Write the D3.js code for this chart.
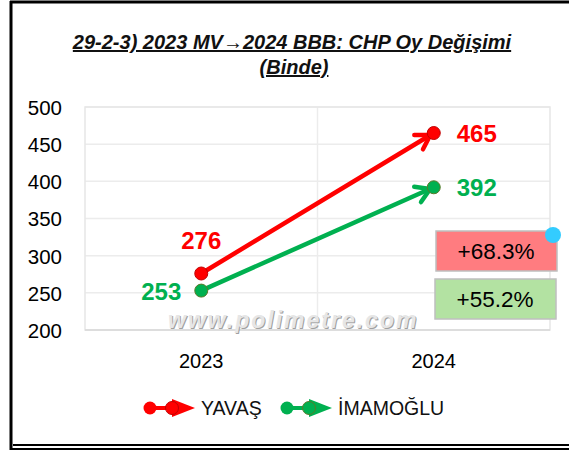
<!DOCTYPE html>
<html>
<head>
<meta charset="utf-8">
<script src="https://cdn.jsdelivr.net/npm/d3@7"></script>
<style>
  body { margin: 0; background: #fff; }
  text { font-family: "Liberation Sans", Arial, sans-serif; }
</style>
</head>
<body>
<svg id="chart" width="569" height="451"></svg>
<script>
const years = ["2023", "2024"];
const yavas = [276, 465];
const imamoglu = [253, 392];
const seriesNames = ["YAVAŞ", "İMAMOĞLU"];
const seriesColors = ["#ff0000", "#00b050"];
const markerStroke = ["#c00000", "#5a7a2a"];
const yTicks = [200, 250, 300, 350, 400, 450, 500];
const changeLabels = ["+68.3%", "+55.2%"];
const changeFills = ["#ff7c80", "#b3e2a2"];

const svg = d3.select("#chart");
const margin = { top: 107, right: 19, bottom: 121, left: 85 };
const width = 569 - margin.left - margin.right;
const height = 451 - margin.top - margin.bottom;

// outer frame
svg.append("line").attr("x1", 11).attr("y1", 1).attr("x2", 11).attr("y2", 450).attr("stroke", "#000").attr("stroke-width", 3);
svg.append("line").attr("x1", 10).attr("y1", 2).attr("x2", 569).attr("y2", 2).attr("stroke", "#000").attr("stroke-width", 3);
svg.append("line").attr("x1", 10).attr("y1", 449).attr("x2", 569).attr("y2", 449).attr("stroke", "#000").attr("stroke-width", 2);
svg.append("line").attr("x1", 13).attr("y1", 445).attr("x2", 569).attr("y2", 445).attr("stroke", "#000").attr("stroke-width", 2);

// title
const title = svg.append("text").attr("text-anchor", "middle")
  .style("font-weight", "bold").style("font-style", "italic").style("font-size", "20px")
  .style("text-decoration", "underline").attr("fill", "#111");
title.append("tspan").attr("x", 292).attr("y", 49).text("29-2-3) 2023 MV→2024 BBB: CHP Oy Değişimi");
title.append("tspan").attr("x", 294).attr("y", 74).text("(Binde)");

const g = svg.append("g").attr("transform", "translate(" + margin.left + "," + margin.top + ")");

const x = d3.scaleBand().domain(years).range([0, width]);
const y = d3.scaleLinear().domain([200, 500]).range([height, 0]);
const cx = (d) => x(d) + x.bandwidth() / 2;

// grid
g.append("g").selectAll("line").data(yTicks).enter().append("line")
  .attr("x1", 0).attr("x2", width).attr("y1", (d) => y(d)).attr("y2", (d) => y(d))
  .attr("stroke", "#ececec").attr("stroke-width", 1.5);
g.append("line").attr("x1", x.bandwidth()).attr("x2", x.bandwidth()).attr("y1", 0).attr("y2", height)
  .attr("stroke", "#ececec").attr("stroke-width", 1.5);
g.append("rect").attr("width", width).attr("height", height).attr("fill", "none")
  .attr("stroke", "#e6e6e6").attr("stroke-width", 1.5);
g.append("line").attr("x1", 0).attr("x2", width).attr("y1", height).attr("y2", height)
  .attr("stroke", "#d9d9d9").attr("stroke-width", 1.5);

// axes
const yAxis = g.append("g").attr("transform", "translate(-23,0)")
  .call(d3.axisLeft(y).tickValues(yTicks).tickSize(0));
yAxis.select(".domain").remove();
yAxis.selectAll("text").style("font-size", "20.5px").attr("fill", "#000").attr("dy", "0.36em").attr("x", 0);

const xAxis = g.append("g").attr("transform", "translate(0," + height + ")")
  .call(d3.axisBottom(x).tickSize(0));
xAxis.select(".domain").remove();
xAxis.selectAll("text").style("font-size", "20px").attr("fill", "#000").attr("dy", "0").attr("y", 38);

// watermark
g.append("text").attr("x", 84).attr("y", 222).style("font-size", "23px").style("font-weight", "bold")
  .style("font-style", "italic").attr("fill", "#a0a0a0").attr("letter-spacing", "2")
  .text("www.polimetre.com");
g.append("text").attr("x", 83).attr("y", 221).style("font-size", "23px").style("font-weight", "bold")
  .style("font-style", "italic").attr("fill", "#e6e6e6").attr("letter-spacing", "2")
  .text("www.polimetre.com");

// lines with open arrows
const allSeries = [yavas, imamoglu];
allSeries.forEach((vals, i) => {
  const pts = years.map((yr, j) => [cx(yr), y(vals[j])]);
  g.append("path").datum(pts).attr("fill", "none").attr("stroke", seriesColors[i])
    .attr("stroke-width", 4.5).attr("stroke-linecap", "round").attr("d", d3.line());
  const [p0, p1] = pts;
  const ang = Math.atan2(p1[1] - p0[1], p1[0] - p0[0]);
  const len = 16, spread = 0.55;
  const tip = [p1[0] - 4 * Math.cos(ang), p1[1] - 4 * Math.sin(ang)];
  const a1 = [tip[0] - len * Math.cos(ang - spread), tip[1] - len * Math.sin(ang - spread)];
  const a2 = [tip[0] - len * Math.cos(ang + spread), tip[1] - len * Math.sin(ang + spread)];
  g.append("path").attr("d", d3.line()([a1, tip, a2])).attr("fill", "none")
    .attr("stroke", seriesColors[i]).attr("stroke-width", 4.5)
    .attr("stroke-linecap", "round").attr("stroke-linejoin", "round");
  g.selectAll(".pt" + i).data(vals).enter().append("circle")
    .attr("cx", (d, j) => cx(years[j])).attr("cy", (d) => y(d)).attr("r", 6.5)
    .attr("fill", seriesColors[i]).attr("stroke", markerStroke[i]).attr("stroke-width", 1);
});

// data labels
const lbl = (txt, px, py, anchor, color) =>
  g.append("text").attr("x", px).attr("y", py).attr("text-anchor", anchor)
    .style("font-size", "24px").style("font-weight", "bold").attr("fill", color).text(txt);
lbl(yavas[0], cx(years[0]), y(yavas[0]) - 25, "middle", seriesColors[0]);
lbl(imamoglu[0], cx(years[0]) - 20, y(imamoglu[0]) + 9, "end", seriesColors[1]);
lbl(yavas[1], cx(years[1]) + 23, y(yavas[1]) + 9, "start", seriesColors[0]);
lbl(imamoglu[1], cx(years[1]) + 23, y(imamoglu[1]) + 9, "start", seriesColors[1]);

// change boxes
changeLabels.forEach((t, i) => {
  const bx = 351 - i, by = 124 + i * 48;
  g.append("rect").attr("x", bx).attr("y", by).attr("width", 121).attr("height", 40)
    .attr("fill", changeFills[i]).attr("stroke", "#bfbfbf").attr("stroke-width", 1.5);
  g.append("text").attr("x", bx + 60).attr("y", by + 28).attr("text-anchor", "middle")
    .style("font-size", "22.5px").attr("fill", "#000").text(t);
});
g.append("circle").attr("cx", 468).attr("cy", 128).attr("r", 8).attr("fill", "#33ccff");

// legend
const legendX = [138, 275];
seriesNames.forEach((name, i) => {
  const lg = svg.append("g").attr("transform", "translate(" + legendX[i] + ",408)");
  lg.append("line").attr("x1", 12).attr("x2", 34).attr("y1", 0).attr("y2", 0)
    .attr("stroke", seriesColors[i]).attr("stroke-width", 4);
  lg.append("path").attr("d", "M34,-9L57,0L34,9Z").attr("fill", seriesColors[i]);
  lg.append("circle").attr("cx", 12).attr("cy", 0).attr("r", 6.5).attr("fill", seriesColors[i]);
  lg.append("circle").attr("cx", 34).attr("cy", 0).attr("r", 6.5).attr("fill", seriesColors[i])
    .attr("stroke", markerStroke[i]).attr("stroke-width", 1);
  lg.append("text").attr("x", 63).attr("y", 7).style("font-size", "19.5px").attr("fill", "#111").text(name);
});
</script>
</body>
</html>
